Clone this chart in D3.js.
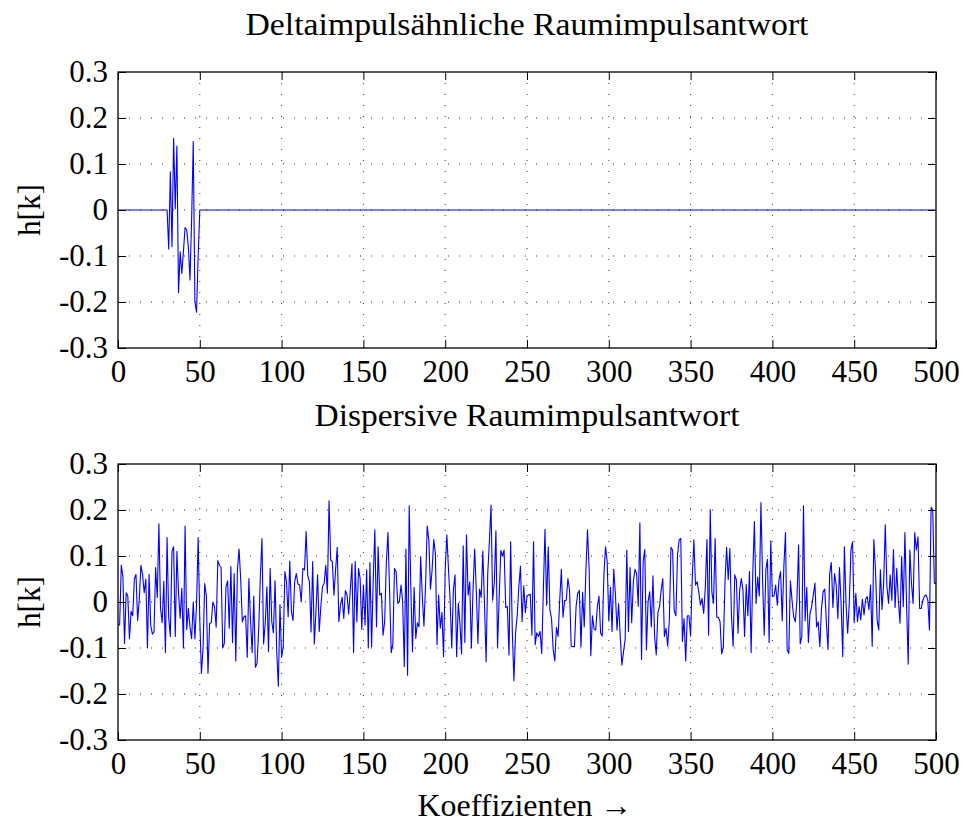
<!DOCTYPE html>
<html>
<head>
<meta charset="utf-8">
<script src="https://cdn.jsdelivr.net/npm/d3@7"></script>
<style>
  html, body { margin: 0; padding: 0; background: #fff; }
  svg text { font-family: "Liberation Serif", "DejaVu Serif", serif; fill: #000; }
</style>
</head>
<body>
<svg id="chart" width="963" height="826"></svg>
<script>
// ---------------- data ----------------
const sampleCount = 501;               // coefficients k = 0 ... 500
const xTickValues = [0, 50, 100, 150, 200, 250, 300, 350, 400, 450, 500];
const yTickValues = [0.3, 0.2, 0.1, 0, -0.1, -0.2, -0.3];
const yTickLabels = ["0.3", "0.2", "0.1", "0", "-0.1", "-0.2", "-0.3"];

const titleTop = "Deltaimpulsähnliche Raumimpulsantwort";
const titleBottom = "Dispersive Raumimpulsantwort";
const yLabel = "h[k]";
const xLabel = "Koeffizienten \u2192";

// top: delta-like response, non-zero only from k = 31 to k = 49
const deltaPulseStart = 31;
const deltaPulse = [-0.085, 0.083, -0.08, 0.156, 0.003, 0.139, -0.18, -0.091, -0.138, -0.09,
                    -0.038, -0.043, -0.08, -0.152, -0.02, 0.149, -0.2, -0.222, -0.1];

// bottom: dispersive response, k = 0 ... 500
const dispersiveValues = [
  -0.05, -0.05, 0.08, 0.055, -0.09, 0.02, 0.013, -0.08, -0.02, -0.03,
  0.05, 0.06, -0.04, 0.005, 0.08, 0.06, 0.02, 0.05, -0.10, 0.06,
  -0.05, -0.07, -0.065, 0.075, 0.01, 0.17, -0.014, -0.045, 0.045, -0.11,
  0.14, -0.035, -0.075, 0.11, 0.12, -0.075, 0.11, 0.02, -0.035, 0.03,
  -0.10, 0.165, -0.06, -0.014, -0.054, -0.08, 0.0, -0.08, -0.006, 0.14,
  -0.04, -0.155, -0.1, 0.04, 0.013, -0.155, -0.046, -0.045, 0.0, -0.01,
  -0.055, 0.09, 0.08,
  0.075, -0.10, -0.09, 0.033, 0.046, -0.057, 0.077, -0.088, 0.062, -0.128,
  0.07, 0.115, 0.05, -0.043, -0.032, -0.03, -0.12, 0.051, -0.04, -0.11,
  0.013, -0.142, -0.133, -0.06, 0.055, 0.138, -0.091, -0.046, 0.033, -0.108,
  0.073, -0.043, -0.067, 0.046, -0.106, -0.183, -0.006, -0.12, -0.097, 0.066,
  0.044, -0.032, 0.089, -0.021, -0.04, 0.044, 0.062, 0.039, 0.037, 0.0,
  0.073, 0.07, 0.153, 0.057, 0.044, -0.065, 0.088, -0.091,
  -0.02, 0.059, -0.064, -0.01, 0.033, 0.041, 0.08, 0.019, 0.22, 0.091,
  0.088, 0.015, 0.07, 0.119, -0.043, -0.007, 0.01, -0.036, 0.025, 0.015,
  -0.026, 0.026, 0.083, -0.11, 0.088, -0.043, 0.073, 0.051, -0.059, 0.037,
  -0.05, 0.07, -0.1, 0.086, -0.097, 0.048, 0.157, -0.054, 0.12, 0.015,
  0.019, -0.072, -0.043, 0.084, 0.151, 0.026, -0.11, -0.091, 0.073, 0.066,
  -0.003, 0.001, 0.037, 0.001, -0.14, 0.115, -0.159, 0.209, 0.03, -0.108,
  0.032, -0.079, -0.045, -0.054,
  0.099, 0.012, -0.052, 0.037, 0.165, 0.135, 0.028, 0.07, 0.136, 0.106,
  -0.093, 0.015, -0.057, -0.023, -0.119, 0.07, 0.146, 0.073, 0.004, -0.1,
  0.026, 0.059, -0.119, -0.003, -0.046, -0.113, 0.122, -0.088, 0.146, 0.015,
  0.044, -0.1, 0.026, 0.115, 0.026, -0.09, 0.028, 0.01, 0.111, -0.003,
  -0.13, 0.062, 0.131, 0.211, 0.004, 0.041, 0.155, -0.1, 0.012, 0.112,
  0.1, 0.113, -0.012, -0.01, -0.115, 0.131, -0.061, -0.171, -0.068, -0.03,
  0.033, 0.078, -0.043, 0.035, -0.023, 0.013, 0.015, 0.017, -0.072, 0.131,
  -0.093, -0.067, -0.075, -0.064, -0.112, 0.026, 0.158, -0.007, 0.12, -0.017,
  -0.036, -0.103, -0.128, -0.055, -0.075, 0.004, 0.071, -0.033, 0.003, 0.004,
  0.051, 0.026, -0.096, -0.097, -0.097, -0.01, 0.019, 0.025, -0.097, 0.021,
  -0.054, 0.07, 0.157, 0.07, -0.117, -0.03, -0.059, -0.061, -0.01, 0.013,
  -0.068, -0.074, 0.059, 0.12, 0.088, -0.041, 0.032, -0.064, 0.071, 0.02,
  -0.061, -0.004,
  -0.075, -0.137, -0.108, -0.081, 0.113, -0.064, 0.075, -0.045, 0.044, 0.071,
  0.062, -0.009, 0.172, -0.125, 0.088, 0.114, -0.104, 0.001, 0.022, -0.054,
  0.057, -0.075, -0.115, -0.023, -0.01, 0.026, 0.051, -0.075, -0.057, -0.096,
  -0.039, 0.119, 0.113, -0.019, -0.03, 0.102, 0.135, 0.138, -0.086, -0.036,
  -0.128, -0.03, -0.03, -0.074, 0.051, 0.135, 0.037, 0.044, 0.022, -0.007,
  0.008, -0.025, 0.033, 0.136, -0.072, 0.201, 0.022, -0.003, 0.138, -0.033,
  -0.033,
  -0.043, -0.113, -0.097, 0.041, 0.119, 0.049, 0.116, -0.032, -0.096, 0.059,
  0.048, -0.068, 0.026, 0.051, 0.026, -0.075, 0.038, -0.03, 0.066, -0.11,
  0.062, 0.175, -0.003, 0.054, 0.013, 0.216, 0.048, -0.072, 0.07, 0.093,
  -0.088, 0.133, 0.012, 0.013, 0.037, -0.007, 0.048, 0.066, -0.041, 0.077,
  0.151, -0.104, -0.112, 0.046, 0.004, -0.032, -0.043, 0.004, 0.124, -0.091,
  -0.075, 0.209, -0.041, 0.032, -0.088, -0.025, -0.01, 0.015, 0.041, -0.054,
  -0.043,
  -0.097, -0.014, 0.022, 0.028, -0.046, -0.103, 0.062, 0.086, -0.012, 0.062,
  0.037, -0.036, 0.075, -0.003, -0.119, 0.12, -0.003, -0.068, -0.003, 0.113,
  0.131, -0.045, 0.019, -0.043, -0.01, -0.039, 0.006, -0.028, 0.006, 0.012,
  -0.017, 0.037, -0.096, 0.136, 0.07, -0.039, -0.061, 0.07, -0.016, 0.041,
  0.168, 0.033, -0.003, 0.059, 0.004, 0.114, -0.012, 0.073, 0.004, -0.046,
  0.099, -0.01, 0.151, -0.003, -0.135, 0.113, 0.041, -0.003, 0.151, 0.113,
  0.142, -0.014, -0.014, 0.004, 0.013, 0.015, 0.004, -0.061, 0.206, 0.2,
  0.041, 0.04
];

// full top series built from the pulse (zeros elsewhere)
const deltaValues = d3.range(sampleCount).map(k => {
  const j = k - deltaPulseStart;
  return (j >= 0 && j < deltaPulse.length) ? deltaPulse[j] : 0;
});

// ---------------- layout ----------------
const svg = d3.select("#chart");
const FONT = 31;
const left = 118, right = 936;
const panels = [
  { values: deltaValues, top: 72, bottom: 348, title: titleTop, titleY: 35, titleLen: 563 },
  { values: dispersiveValues, top: 464, bottom: 740, title: titleBottom, titleY: 426, titleLen: 425 }
];

const x = d3.scaleLinear().domain([0, 500]).range([left, right]);

panels.forEach(p => {
  const y = d3.scaleLinear().domain([-0.3, 0.3]).range([p.bottom, p.top]);
  const g = svg.append("g");

  // grid (dotted)
  const grid = g.append("g").attr("stroke", "#333").attr("stroke-width", 1)
    .attr("stroke-dasharray", "1,10");
  grid.selectAll("line.vx").data(xTickValues.slice(1, -1)).join("line")
    .attr("x1", d => x(d)).attr("x2", d => x(d))
    .attr("y1", p.bottom).attr("y2", p.top);
  grid.selectAll("line.hy").data(yTickValues.slice(1, -1)).join("line")
    .attr("x1", left).attr("x2", right)
    .attr("y1", d => y(d)).attr("y2", d => y(d));

  // data line
  const line = d3.line().x((d, i) => x(i)).y(d => y(d));
  g.append("path").datum(p.values)
    .attr("fill", "none").attr("stroke", "#0000ff").attr("stroke-width", 1.1)
    .attr("stroke-linejoin", "round")
    .attr("d", line);

  // axes with inward ticks
  const fmtY = d => yTickLabels[yTickValues.indexOf(d)];
  const axB = g.append("g").attr("transform", `translate(0,${p.bottom})`)
    .call(d3.axisBottom(x).tickValues(xTickValues).tickSizeInner(-8).tickSizeOuter(0).tickPadding(12).tickFormat(d3.format("d")));
  const axT = g.append("g").attr("transform", `translate(0,${p.top})`)
    .call(d3.axisTop(x).tickValues(xTickValues).tickSizeInner(-8).tickSizeOuter(0).tickFormat(""));
  const axL = g.append("g").attr("transform", `translate(${left},0)`)
    .call(d3.axisLeft(y).tickValues(yTickValues).tickSizeInner(-8).tickSizeOuter(0).tickPadding(10).tickFormat(fmtY));
  const axR = g.append("g").attr("transform", `translate(${right},0)`)
    .call(d3.axisRight(y).tickValues(yTickValues).tickSizeInner(-8).tickSizeOuter(0).tickFormat(""));
  [axB, axT, axL, axR].forEach(a => {
    a.select(".domain").remove();
    a.selectAll("line").attr("stroke", "#000").attr("stroke-width", 1);
    a.selectAll("text").style("font-family", '"Liberation Serif", serif').style("font-size", FONT + "px").attr("fill", "#000");
  });

  // box
  g.append("rect").attr("x", left).attr("y", p.top)
    .attr("width", right - left).attr("height", p.bottom - p.top)
    .attr("fill", "none").attr("stroke", "#000").attr("stroke-width", 1.3);

  // title
  svg.append("text").attr("x", (left + right) / 2).attr("y", p.titleY)
    .attr("text-anchor", "middle").style("font-size", FONT + "px")
    .attr("textLength", p.titleLen).attr("lengthAdjust", "spacingAndGlyphs")
    .text(p.title);

  // y label
  const cy = (p.top + p.bottom) / 2;
  svg.append("text").attr("transform", `translate(40,${cy}) rotate(-90)`)
    .attr("text-anchor", "middle").style("font-size", FONT + "px")
    .attr("textLength", 52).attr("lengthAdjust", "spacingAndGlyphs")
    .text(yLabel);
});

svg.append("text").attr("x", 525).attr("y", 816)
  .attr("text-anchor", "middle").style("font-size", FONT + "px")
  .attr("textLength", 215).attr("lengthAdjust", "spacingAndGlyphs")
  .text(xLabel);
</script>
</body>
</html>
